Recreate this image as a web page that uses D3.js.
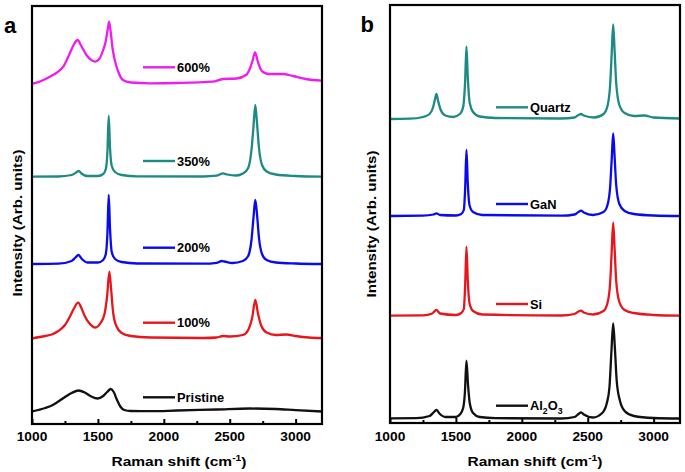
<!DOCTYPE html>
<html>
<head>
<meta charset="utf-8">
<script src="https://cdn.jsdelivr.net/npm/d3@7"></script>
<style>
  html, body { margin: 0; padding: 0; background: #fff; }
  svg { display: block; }
  text { font-family: Arial, "Liberation Sans", sans-serif; font-weight: bold; fill: #000; }
</style>
</head>
<body>
<svg id="chart" width="685" height="472"></svg>
<script>
// ---------------- DATA (Raman shift cm^-1, intensity arb. units) ----------------
const xDomain = [1000, 3200];
const yDomain = [0, 418];
const majorTicks = [1000, 1500, 2000, 2500, 3000];
const minorTicks = [1250, 1750, 2250, 2750];

// Panel a
const labelsA = ["600%", "350%", "200%", "100%", "Pristine"];
const colorsA = ["#ee1cee", "#1d8a84", "#0a0aee", "#e8161c", "#111111"];
const pristine = [[1000,12.5],[1100,16],[1150,18.5],[1200,22.5],[1250,27],[1300,31],[1355,33.5],[1400,31.5],[1450,27.5],[1497,25.5],[1540,28],[1570,32],[1598,35],[1620,32],[1645,24],[1670,17.5],[1700,14],[1750,13],[1900,12.8],[2100,13.5],[2400,14.5],[2650,15.5],[2850,15],[3000,13.8],[3200,12.5]];
const strain100 = [[1000,85.7],[1100,88],[1150,89.5],[1200,93],[1250,99],[1290,108],[1320,116],[1350,121.3],[1375,116],[1400,108],[1440,100],[1480,96.5],[1520,101],[1550,110],[1570,128],[1587,152.3],[1600,135],[1615,112],[1640,98],[1680,91],[1750,88],[1900,86.5],[2300,86],[2400,86.5],[2450,88],[2500,87.5],[2600,89],[2640,94],[2670,106],[2694,124],[2715,110],[2740,98],[2780,91.5],[2850,89],[2930,89.5],[3000,88],[3100,86.5],[3200,86]];
const strain200 = [[1000,160],[1200,160.3],[1300,163],[1330,166.5],[1352,169],[1375,165.5],[1420,161.5],[1500,161.5],[1540,164],[1560,170],[1572,190],[1582,229],[1592,195],[1605,172],[1630,165],[1680,162],[1800,160.5],[2300,160.3],[2400,161.2],[2440,163],[2460,162.5],[2520,161],[2600,163],[2640,168],[2665,184],[2680,206],[2694,224],[2708,208],[2722,186],[2745,170],[2780,164],[2850,161.5],[3000,160.5],[3200,160]];
const strain350 = [[1000,247.3],[1200,247.5],[1300,249],[1335,251.5],[1355,253],[1375,250.5],[1420,248],[1500,248],[1540,250],[1560,255],[1572,272],[1582,308],[1592,276],[1605,258],[1630,252],[1680,249],[1800,247.6],[2300,247.5],[2400,248.3],[2450,250.7],[2480,249.5],[2550,248.5],[2600,250.5],[2640,256],[2665,274],[2680,297],[2694,319],[2708,299],[2722,276],[2745,259],[2780,252.5],[2850,249.5],[3000,248],[3200,247.3]];
const strain600 = [[1000,340],[1070,343],[1136,347.3],[1190,351.5],[1237,357.3],[1287,370.7],[1320,380],[1346,384],[1370,379],[1413,369],[1450,364],[1476,362.3],[1510,365],[1540,374],[1560,383],[1575,395],[1585,402.3],[1597,392],[1612,375],[1628,364],[1655,352],[1690,344],[1750,341.5],[1893,340.7],[2100,341],[2370,342.3],[2450,345],[2550,345.5],[2624,349],[2655,356],[2675,364],[2692,371.7],[2710,364],[2730,356],[2750,352.3],[2800,350],[2901,350],[2980,348],[3077,345],[3200,343.3]];
const seriesA = [strain600, strain350, strain200, strain100, pristine];

// Panel b
const labelsB = ["Quartz", "GaN", "Si", "Al2O3"];
const colorsB = ["#1d8a84", "#0a0aee", "#e8161c", "#111111"];
const quartz = [[1000,304],[1150,304.3],[1250,306],[1300,309],[1325,315],[1340,323],[1352,329],[1365,322],[1385,313],[1420,307.5],[1480,306],[1530,309],[1555,316],[1570,342],[1580,376.3],[1590,346],[1605,320],[1630,311],[1680,306.5],[1800,305],[2300,304.5],[2400,305.5],[2430,308],[2450,309],[2470,307.5],[2550,305.5],[2620,309],[2650,317],[2670,338],[2682,370],[2693,398.7],[2704,372],[2716,340],[2740,318],[2780,310],[2850,307],[2930,307.5],[3000,305.5],[3200,304.5]];
const gan = [[1000,207],[1250,207.3],[1330,208.5],[1352,209.7],[1380,208],[1500,207.5],[1540,209],[1560,213],[1570,234],[1580,273],[1590,240],[1603,218],[1630,211],[1700,208],[2300,207.3],[2400,208.5],[2430,211],[2450,212.3],[2470,210.5],[2540,208],[2620,211],[2650,218],[2670,236],[2682,264],[2693,289.7],[2704,266],[2716,238],[2740,219],[2780,212],[2850,209],[3000,207.5],[3200,207]];
const si = [[1000,107.3],[1250,107.6],[1320,109.5],[1352,113],[1380,109.5],[1500,108],[1540,110],[1560,114],[1570,137],[1580,176.3],[1590,143],[1603,120],[1630,112],[1700,108.5],[2300,107.5],[2400,109],[2430,111.5],[2450,112.3],[2470,110.5],[2540,108.5],[2620,112],[2650,120],[2670,140],[2682,172],[2693,200.3],[2704,174],[2716,142],[2740,121],[2780,113],[2850,110],[3000,108],[3200,107.3]];
const al2o3 = [[1000,4.7],[1200,4.8],[1300,7],[1330,10.5],[1352,13],[1375,9.5],[1420,6],[1500,6],[1530,8.5],[1555,15],[1568,30],[1580,62.3],[1592,38],[1605,20],[1630,10],[1680,6],[1800,4.8],[2300,4.5],[2400,6],[2430,9],[2450,10.7],[2470,8.5],[2540,5.5],[2610,10],[2645,20],[2665,36],[2680,72],[2693,99.7],[2706,75],[2720,42],[2745,22],[2780,12],[2850,7],[3000,5],[3200,4.5]];
const seriesB = [quartz, gan, si, al2o3];

// ---------------- DRAWING ----------------
const svg = d3.select("#chart");

function panel(opts) {
  const { id, left, right, top, bottom, series, colors, labels, legendX, legendYs, letter, letterX, letterY, yLabelX, yLabelY, xTitleX } = opts;
  const x = d3.scaleLinear().domain(xDomain).range([left, right]);
  const y = d3.scaleLinear().domain(yDomain).range([bottom, top]);
  const g = svg.append("g");

  g.append("clipPath").attr("id", "clip" + id)
    .append("rect").attr("x", left).attr("y", top).attr("width", right - left).attr("height", bottom - top);

  const line = d3.line().x(d => x(d[0])).y(d => y(d[1])).curve(d3.curveMonotoneX);
  const lines = g.append("g").attr("clip-path", `url(#clip${id})`);
  series.forEach((s, i) => {
    lines.append("path").attr("d", line(s)).attr("fill", "none")
      .attr("stroke", colors[i]).attr("stroke-width", 2.3).attr("stroke-linejoin", "round");
  });

  // legends
  series.forEach((s, i) => {
    const ly = legendYs[i];
    g.append("line").attr("x1", legendX).attr("x2", legendX + 32).attr("y1", ly).attr("y2", ly)
      .attr("stroke", colors[i]).attr("stroke-width", 2.4);
    const t = g.append("text").attr("transform", `translate(${legendX + 34},${ly + 4.5}) scale(1.03,1)`)
      .style("font-size", "12.5px");
    const lab = labels[i];
    if (lab === "Al2O3") {
      t.append("tspan").text("Al");
      t.append("tspan").text("2").style("font-size", "8.5px").attr("dy", 3.5);
      t.append("tspan").text("O").attr("dy", -3.5);
      t.append("tspan").text("3").style("font-size", "8.5px").attr("dy", 3.5);
    } else {
      t.text(lab);
    }
  });

  // axes (ticks inward)
  const axMajor = d3.axisBottom(x).tickValues(majorTicks).tickSizeInner(-5).tickSizeOuter(0).tickFormat("");
  const axMinor = d3.axisBottom(x).tickValues(minorTicks).tickSizeInner(-3).tickSizeOuter(0).tickFormat("");
  const ga = g.append("g").attr("transform", `translate(0,${bottom})`).call(axMajor);
  const gm = g.append("g").attr("transform", `translate(0,${bottom})`).call(axMinor);
  [ga, gm].forEach(a => {
    a.select(".domain").remove();
    a.selectAll("line").attr("stroke", "#000").attr("stroke-width", 2);
  });
  majorTicks.forEach(v => {
    g.append("text").attr("transform", `translate(${x(v)},441) scale(1.1,1)`)
      .attr("text-anchor", "middle").style("font-size", "12.5px").text(d3.format("d")(v));
  });

  // frame
  g.append("rect").attr("x", left).attr("y", top).attr("width", right - left).attr("height", bottom - top)
    .attr("fill", "none").attr("stroke", "#000").attr("stroke-width", 2.2);

  // x title
  const xt = g.append("text").attr("transform", `translate(${xTitleX},465.5) scale(1.15,1)`)
    .attr("text-anchor", "middle").style("font-size", "13.5px");
  xt.append("tspan").text("Raman shift (cm");
  xt.append("tspan").text("-1").style("font-size", "9px").attr("dy", -5);
  xt.append("tspan").text(")").attr("dy", 5);

  // y title
  g.append("text").attr("transform", `translate(${yLabelX},${yLabelY}) rotate(-90) scale(1.12,1)`)
    .attr("text-anchor", "middle").style("font-size", "13.5px").text("Intensity (Arb. units)");

  // panel letter
  g.append("text").attr("x", letterX).attr("y", letterY).style("font-size", "22px").text(letter);
}

panel({ id: "a", left: 32, right: 322, top: 6, bottom: 424, series: seriesA, colors: colorsA, labels: labelsA,
  legendX: 143, legendYs: [67.3, 161, 247.7, 322.7, 397.3], letter: "a", letterX: 4, letterY: 33,
  yLabelX: 22, yLabelY: 223, xTitleX: 179 });
panel({ id: "b", left: 390, right: 680, top: 5, bottom: 423, series: seriesB, colors: colorsB, labels: labelsB,
  legendX: 496, legendYs: [107.3, 204, 304, 405.7], letter: "b", letterX: 360.5, letterY: 32,
  yLabelX: 376, yLabelY: 224, xTitleX: 535 });
</script>
</body>
</html>
